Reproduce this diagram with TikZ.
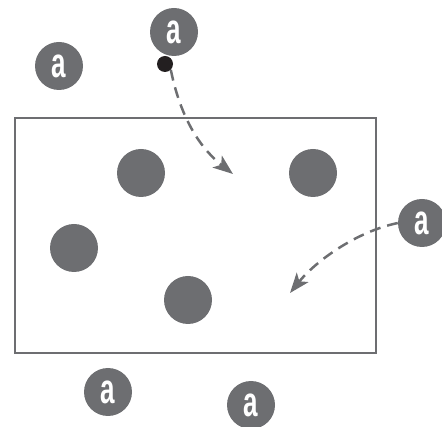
\documentclass[tikz,border=0pt]{standalone}
\usepackage{fontspec}
\setmainfont{Liberation Sans}
\usetikzlibrary{arrows.meta}
\definecolor{dotgray}{HTML}{6D6E71}
\definecolor{ink}{HTML}{231F20}
\tikzset{
  particle/.style={circle, fill=dotgray, minimum size=48pt, inner sep=0pt},
  labelled/.style={particle, text=white, font=\fontsize{42}{42}\selectfont\bfseries},
  path arrow/.style={dotgray, line width=2.5pt, dash pattern=on 11pt off 7pt,
    -{Stealth[length=20pt, width=15pt, inset=5pt]}},
}
\newcommand{\glyphA}{\scalebox{0.62}[1]{a}}
\begin{document}
\begin{tikzpicture}[x=1pt, y=-1pt]
  \useasboundingbox (0,0) rectangle (442,427);
  % container
  \draw[dotgray, line width=2pt] (15,118) rectangle (376,353);
  % particles inside
  \node[particle] (p1) at (141,173) {};
  \node[particle] (p2) at (313,173) {};
  \node[particle] (p3) at (74,248) {};
  \node[particle] (p4) at (188,300) {};
  % labelled particles outside
  \node[labelled] (ta) at (174,32) {\glyphA};
  \node[labelled] (la) at (59,66) {\glyphA};
  \node[labelled] (ra) at (422,223) {\glyphA};
  \node[labelled] (bl) at (108,392) {\glyphA};
  \node[labelled] (br) at (251,405) {\glyphA};
  % marker
  \node[circle, fill=ink, minimum size=16pt, inner sep=0pt] (m) at (165,64) {};
  % trajectories
  \coordinate (t1) at (233,174);
  \coordinate (t2) at (290,293);
  \draw[path arrow] (m.south east) .. controls (182,125) and (205,152) .. (t1);
  \draw[path arrow] (ra.west) .. controls (355,232) and (315,262) .. (t2);
\end{tikzpicture}
\end{document}
